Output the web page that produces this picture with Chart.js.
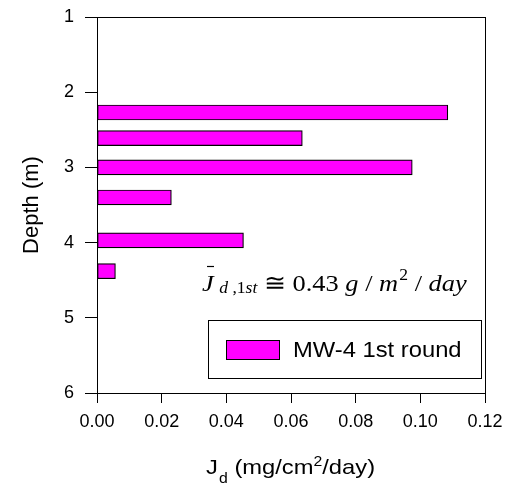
<!DOCTYPE html>
<html>
<head>
<meta charset="utf-8">
<script src="https://cdn.jsdelivr.net/npm/chart.js@4.4.0/dist/chart.umd.min.js"></script>
<style>
  html, body { margin: 0; padding: 0; background: #fff; }
  #wrap { width: 507px; height: 486px; }
</style>
</head>
<body>
<div id="wrap"><canvas id="fluxChart" width="507" height="486"></canvas></div>
<script>
// depth of each sample interval (m) and measured flux J_d (mg/cm2/day)
const depths = [2.27, 2.61, 3.0, 3.4, 3.97, 4.38]
const fluxValues = [0.1085, 0.0635, 0.0975, 0.023, 0.0453, 0.0057]
const seriesLabel = "MW-4 1st round"
const depthTicks = [1, 2, 3, 4, 5, 6]
const fluxTicks = [0, 0.02, 0.04, 0.06, 0.08, 0.1, 0.12]

const SANS = "'Liberation Sans', Arial, sans-serif"
const SERIF = "'Liberation Serif', 'Times New Roman', serif"
const PINK = "#ff00ff"

// box around the plot (top + right edges too)
const framePlugin = {
  id: "frame",
  afterDraw(chart) {
    const { ctx, chartArea: a } = chart
    ctx.save()
    ctx.strokeStyle = "#000"
    ctx.lineWidth = 1
    ctx.strokeRect(a.left + 0.5, a.top + 0.5, a.right - a.left, a.bottom - a.top)
    ctx.restore()
  },
}

// draw a run of text pieces left to right, stretched a bit sideways like the original
function drawRun(ctx, parts, x0, base, sx) {
  ctx.save()
  ctx.translate(x0, base)
  ctx.scale(sx, 1)
  let x = 0
  parts.forEach((p) => {
    ctx.font = p.f
    x += p.gap || 0
    ctx.fillText(p.t, x, p.dy || 0)
    x += ctx.measureText(p.t).width
  })
  ctx.restore()
}

// x axis title with subscript / superscript
const xTitlePlugin = {
  id: "xTitle",
  afterDraw(chart) {
    const { ctx } = chart
    ctx.save()
    ctx.fillStyle = "#000"
    ctx.textBaseline = "alphabetic"
    drawRun(ctx, [
      { t: "J", f: "21px " + SANS },
      { t: "d", f: "14px " + SANS, dy: 9, gap: 1 },
      { t: " (mg/cm", f: "21px " + SANS },
      { t: "2", f: "14px " + SANS, dy: -8 },
      { t: "/day)", f: "21px " + SANS },
    ], 206, 474, 1.13)
    ctx.restore()
  },
}

// mean flux annotation + legend box inside the plot
const notePlugin = {
  id: "note",
  afterDraw(chart) {
    const { ctx } = chart
    ctx.save()
    ctx.fillStyle = "#000"
    ctx.textBaseline = "alphabetic"
    const it = "italic 24px " + SERIF
    const up = "24px " + SERIF
    drawRun(ctx, [
      { t: "J", f: it },
      { t: "d", f: "italic 16px " + SERIF, dy: 2, gap: 5 },
      { t: " ,1", f: "16px " + SERIF, dy: 2 },
      { t: "st", f: "italic 16px " + SERIF, dy: 2 },
      { t: " \u2245 ", f: up },
      { t: "0.43 ", f: up },
      { t: "g", f: it },
      { t: " / ", f: up },
      { t: "m", f: it },
      { t: "2", f: "16px " + SERIF, dy: -11, gap: 1 },
      { t: " / ", f: up },
      { t: "day", f: it },
    ], 202, 291, 1.1)
    // bar over J
    ctx.strokeStyle = "#000"
    ctx.lineWidth = 1.2
    ctx.beginPath()
    ctx.moveTo(207, 266.5)
    ctx.lineTo(214, 266.5)
    ctx.stroke()

    // legend
    ctx.lineWidth = 1
    ctx.strokeRect(208.5, 320.5, 273, 58)
    ctx.fillStyle = PINK
    ctx.fillRect(226, 340, 53, 19)
    ctx.strokeRect(226.5, 340.5, 53, 19)
    ctx.fillStyle = "#000"
    drawRun(ctx, [{ t: seriesLabel, f: "22px " + SANS }], 293, 357, 1.08)
    ctx.restore()
  },
}

const ctx = document.getElementById("fluxChart").getContext("2d")

new Chart(ctx, {
  type: "bar",
  data: {
    datasets: [
      {
        label: seriesLabel,
        data: depths.map((d, i) => ({ x: fluxValues[i], y: d })),
        backgroundColor: PINK,
        borderColor: "#000",
        borderWidth: 1.2,
        borderSkipped: false,
        barThickness: 15,
      },
    ],
  },
  options: {
    indexAxis: "y",
    responsive: false,
    animation: false,
    devicePixelRatio: 1,
    layout: { padding: { left: 0, top: 17, right: 22, bottom: 0 } },
    plugins: {
      legend: { display: false },
      tooltip: { enabled: false },
    },
    scales: {
      x: {
        type: "linear",
        min: 0,
        max: 0.12,
        afterFit: (s) => {
          s.height = 93
          s.paddingLeft = 0
          s.paddingRight = 0
        },
        afterBuildTicks: (s) => { s.ticks = fluxTicks.map((v) => ({ value: v })) },
        ticks: {
          color: "#000",
          font: { family: SANS, size: 18 },
          padding: 8,
          maxRotation: 0,
          callback: (v) => Number(v).toFixed(2),
        },
        grid: { drawOnChartArea: false, tickLength: 10, color: "#000" },
        border: { color: "#000", width: 1 },
        title: { display: false },
      },
      y: {
        type: "linear",
        reverse: true,
        offset: false,
        min: 1,
        max: 6,
        afterFit: (s) => {
          s.width = 97
          s.paddingTop = 0
          s.paddingBottom = 0
        },
        afterBuildTicks: (s) => { s.ticks = depthTicks.map((v) => ({ value: v })) },
        ticks: {
          color: "#000",
          font: { family: SANS, size: 18 },
          padding: 11,
        },
        grid: { drawOnChartArea: false, offset: false, tickLength: 12, color: "#000" },
        border: { color: "#000", width: 1 },
        title: {
          display: true,
          text: "Depth (m)",
          color: "#000",
          font: { family: SANS, size: 22 },
          padding: { top: 19, bottom: 0 },
        },
      },
    },
  },
  plugins: [framePlugin, xTitlePlugin, notePlugin],
})
</script>
</body>
</html>
